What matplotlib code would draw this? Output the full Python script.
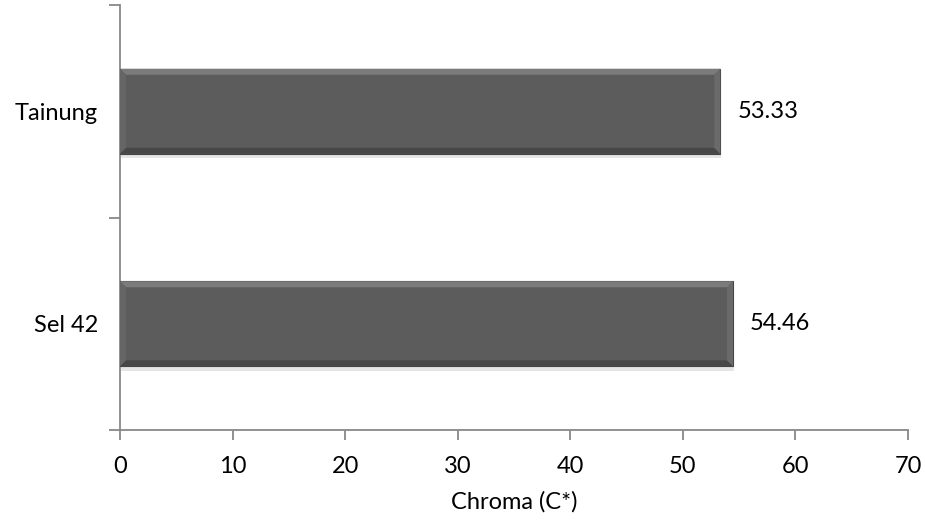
import matplotlib.pyplot as plt
from matplotlib.patches import Polygon, Rectangle

# chroma values per cultivar
cultivars = ["Sel 42", "Tainung"]
chroma = [54.46, 53.33]
xticks = [0, 10, 20, 30, 40, 50, 60, 70]

plt.rcParams['font.family'] = ['Lato', 'DejaVu Sans']
FS = 17

fig = plt.figure(figsize=(9.25, 5.22), dpi=100)
ax = fig.add_axes([0.1297, 0.1762, 0.8519, 0.8142])

bars = ax.barh(range(len(cultivars)), chroma, height=0.4, color="#5c5c5c",
               edgecolor="#444444", linewidth=0.8, zorder=3)

ax.set_xlim(0, 70)
ax.set_ylim(-0.5, len(cultivars) - 0.5)

# bevel: light top edge, darker bottom edge, soft shadow underneath
bx = 6 * 70 / 788.0      # ~6 px in data units along x
by = 6 * 2 / 425.0       # ~6 px in data units along y
for b in bars:
    x0, y0, w, h = b.get_x(), b.get_y(), b.get_width(), b.get_height()
    x1, y1 = x0 + w, y0 + h
    # shadow
    ax.add_patch(Rectangle((x0 + 0.1, y0 - 0.02), w, h, color="#000000",
                           alpha=0.10, lw=0, zorder=2))
    # top bevel
    ax.add_patch(Polygon([(x0, y1), (x1, y1), (x1 - bx, y1 - by), (x0 + bx, y1 - by)],
                         closed=True, color="#7b7b7b", lw=0, zorder=4))
    # bottom bevel
    ax.add_patch(Polygon([(x0, y0), (x1, y0), (x1 - bx, y0 + by), (x0 + bx, y0 + by)],
                         closed=True, color="#474747", lw=0, zorder=4))
    # left bevel
    ax.add_patch(Polygon([(x0, y1), (x0 + bx, y1 - by), (x0 + bx, y0 + by), (x0, y0)],
                         closed=True, color="#656565", lw=0, zorder=4))
    # right bevel
    ax.add_patch(Polygon([(x1, y1), (x1 - bx, y1 - by), (x1 - bx, y0 + by), (x1, y0)],
                         closed=True, color="#6a6a6a", lw=0, zorder=4))
    ax.text(x1 + 1.5, y0 + h / 2, f"{w:.2f}", va="center", ha="left", fontsize=FS)

# category ticks sit on the boundaries, labels between them
ax.set_yticks([-0.5, 0.5, 1.5])
ax.set_yticklabels([])
ax.set_yticks(range(len(cultivars)), minor=True)
ax.set_yticklabels(cultivars, minor=True, fontsize=FS)
ax.tick_params(axis="y", which="minor", length=0, pad=16)
ax.tick_params(axis="y", which="major", length=8, color="#888888", width=1.3)

ax.set_xticks(xticks)
ax.tick_params(axis="x", length=7, color="#888888", width=1.3, labelsize=FS, pad=12)
ax.set_xlabel("Chroma (C*)", fontsize=FS, labelpad=10)

for side in ["top", "right"]:
    ax.spines[side].set_visible(False)
for side in ["left", "bottom"]:
    ax.spines[side].set_color("#888888")
    ax.spines[side].set_linewidth(1.3)

fig.savefig("out.png", dpi=100)
